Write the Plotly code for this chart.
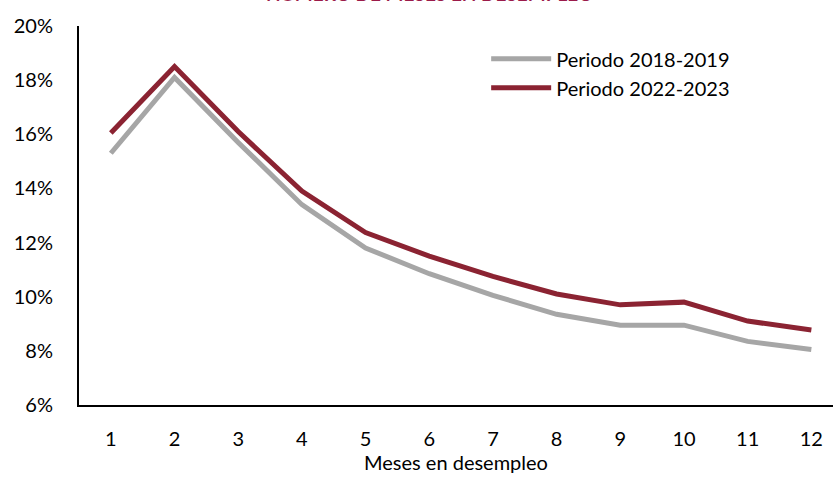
import plotly.graph_objects as go

meses = [1, 2, 3, 4, 5, 6, 7, 8, 9, 10, 11, 12]
periodo_2018_2019 = [15.3, 18.1, 15.7, 13.4, 11.8, 10.85, 10.05, 9.35, 8.95, 8.95, 8.35, 8.05]
periodo_2022_2023 = [16.05, 18.5, 16.1, 13.9, 12.37, 11.5, 10.75, 10.1, 9.7, 9.8, 9.1, 8.77]
nombres = ["Periodo 2018-2019", "Periodo 2022-2023"]
y_ticks = [6, 8, 10, 12, 14, 16, 18, 20]
titulo = "NÚMERO DE MESES EN DESEMPLEO"
x_titulo = "Meses en desempleo"

FONT = "Lato"

fig = go.Figure()
fig.add_trace(go.Scatter(x=meses, y=periodo_2018_2019, mode="lines", name=nombres[0],
                         line=dict(color="#A6A6A6", width=5)))
fig.add_trace(go.Scatter(x=meses, y=periodo_2022_2023, mode="lines", name=nombres[1],
                         line=dict(color="#8B2332", width=5)))

fig.update_layout(
    width=833, height=477,
    margin=dict(l=79, r=0, t=26, b=72),
    paper_bgcolor="white", plot_bgcolor="white",
    font=dict(family=FONT, size=20, color="#000000"),
    showlegend=True,
    legend=dict(x=0.54, y=0.965, xanchor="left", yanchor="top",
                bgcolor="rgba(0,0,0,0)", font=dict(size=20, family=FONT),
                tracegroupgap=0, itemwidth=60),
    xaxis=dict(range=[0.5, 12.34], tickmode="array", tickvals=meses,
               ticktext=[str(m) for m in meses], showgrid=False, zeroline=False,
               showline=True, linecolor="#000000", linewidth=2, ticks="",
               ticklabelstandoff=15,
               title=dict(text=x_titulo, font=dict(size=20, family=FONT), standoff=6)),
    yaxis=dict(range=[6, 20], tickmode="array", tickvals=y_ticks,
               ticktext=[f"{v}%" for v in y_ticks], showgrid=False, zeroline=False,
               showline=True, linecolor="#000000", linewidth=2, ticks="",
               ticklabelstandoff=20),
    annotations=[dict(text=f"<b>{titulo}</b>", xref="paper", yref="paper",
                      x=0.465, y=1.085, xanchor="center", yanchor="middle",
                      showarrow=False, font=dict(size=19, color="#9B1B4A", family=FONT))],
)

fig.write_html("out.html", config={"displayModeBar": False},
               post_script="document.body.style.margin='0';document.body.style.padding='0';")
